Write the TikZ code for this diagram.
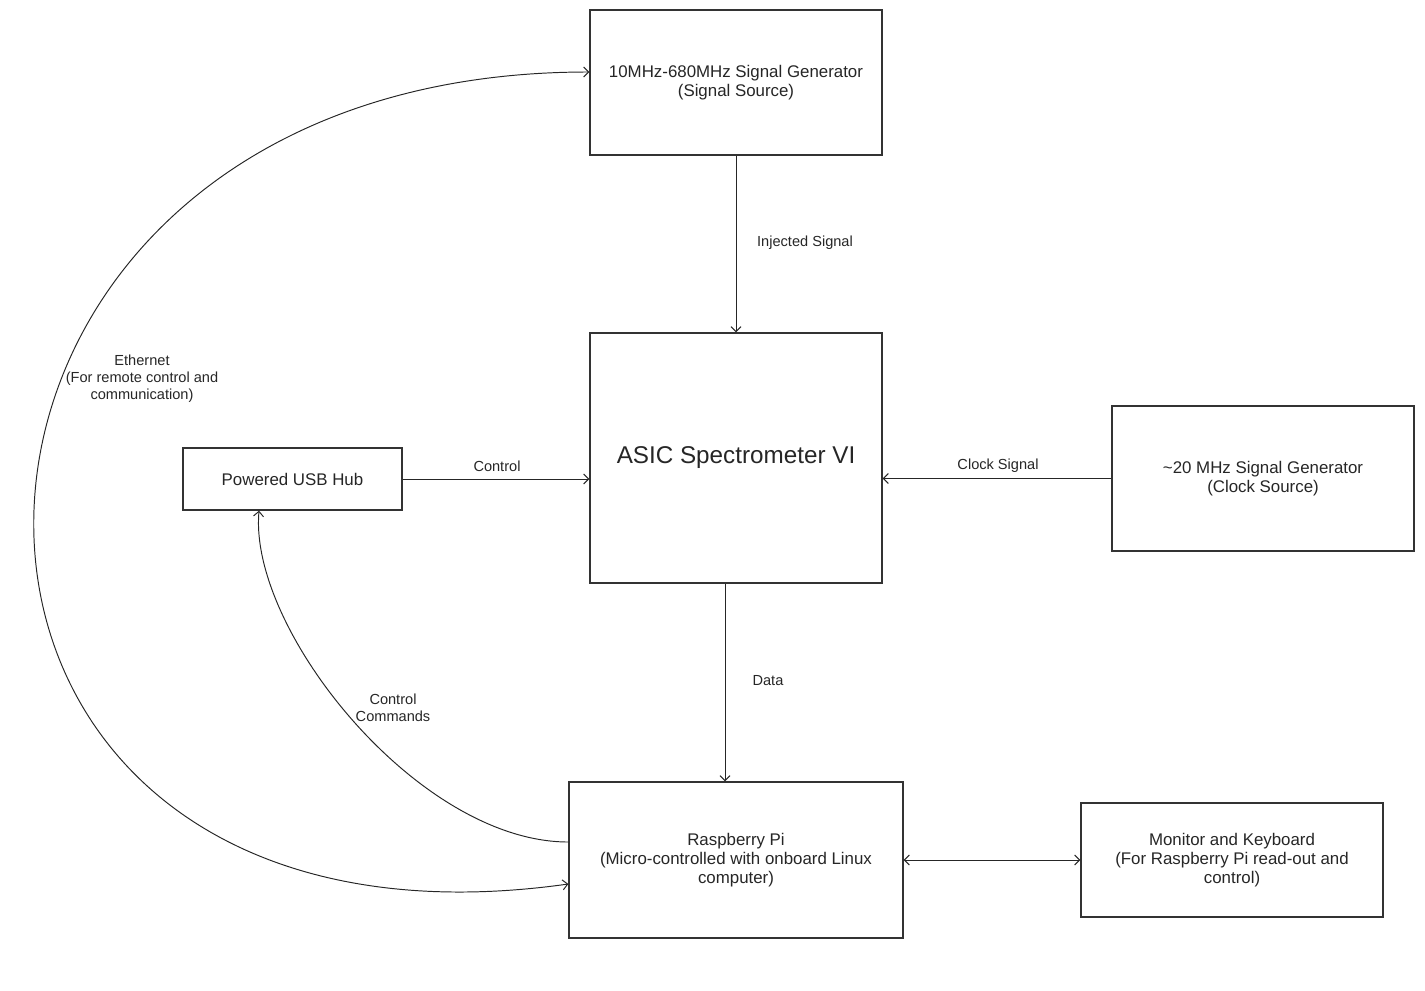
\documentclass[tikz,border=0pt]{standalone}
\usepackage{fontspec}
\setmainfont{Liberation Sans}
\usetikzlibrary{arrows.meta}

\tikzset{
    box/.style={draw=black!80, line width=0.8pt, align=center, inner sep=0pt,
        font=\fontsize{9.6}{10.8}\selectfont, text=black!85},
    lbl/.style={align=center, font=\fontsize{8.3}{9.6}\selectfont, text=black!85},
    wire/.style={draw=black!85, line width=0.55pt},
    >={Straight Barb[length=1mm,width=2mm]}
}

\begin{document}
\begin{tikzpicture}[x=0.02cm, y=-0.02cm]

\useasboundingbox (0,0) rectangle (1425,990);

\node (sig) at (736,82.5) [box, minimum width=5.84cm, minimum height=2.9cm] {10MHz-680MHz Signal Generator\\(Signal Source)};
\node (asic) at (736,458) [box, minimum width=5.84cm, minimum height=5cm, font=\fontsize{13.8}{15}\selectfont] {ASIC Spectrometer VI};
\node (clk) at (1263,478.5) [box, minimum width=6.04cm, minimum height=2.9cm] {\textasciitilde 20 MHz Signal Generator\\(Clock Source)};
\node (usb) at (292.5,479) [box, minimum width=4.38cm, minimum height=1.24cm] {Powered USB Hub};
\node (rpi) at (736,860) [box, minimum width=6.68cm, minimum height=3.12cm] {Raspberry Pi\\(Micro-controlled with onboard Linux\\computer)};
\node (mon) at (1232,860) [box, minimum width=6.04cm, minimum height=2.28cm] {Monitor and Keyboard\\(For Raspberry Pi read-out and\\control)};

\draw [wire, ->] (sig) -- (asic);
\draw [wire, ->] (usb) -- (usb -| asic.west);
\draw [wire, ->] (clk) -- (clk -| asic.east);
\draw [wire, ->] ([xshift=-0.22cm]asic.south) -- ([xshift=-0.22cm]rpi.north);
\draw [wire, <->] (rpi) -- (mon);

\draw [wire, ->] ([yshift=0.36cm]rpi.west) .. controls +(180:3cm) and +(-95:2.4cm) .. ([xshift=-0.67cm]usb.south);
\draw [wire, <->] ([yshift=-0.48cm]rpi.west) .. controls +(188:14.6cm) and +(180:14.6cm) .. ([yshift=0.21cm]sig.west);

\node (l1) at (805,243) [lbl] {Injected Signal};
\node (l2) at (497,466) [lbl] {Control};
\node (l3) at (998,466) [lbl] {Clock Signal};
\node (l4) at (768,681) [lbl] {Data};
\node (l5) at (142,379) [lbl] {Ethernet\\(For remote control and\\communication)};
\node (l6) at (393,708) [lbl] {Control\\Commands};

\end{tikzpicture}
\end{document}
